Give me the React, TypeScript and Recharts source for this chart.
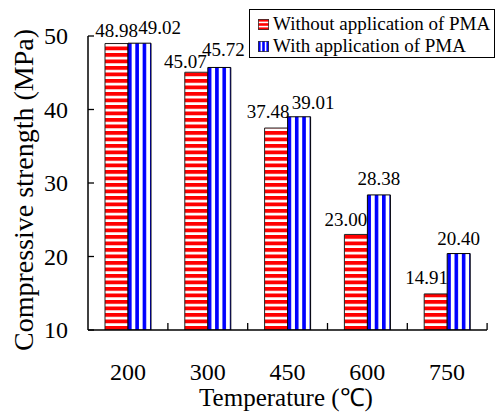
import React from 'react';
import { BarChart, Bar, XAxis, YAxis, LabelList } from 'recharts';

const categories = ['200', '300', '450', '600', '750'];
const withoutPMA = [48.98, 45.07, 37.48, 23.0, 14.91];
const withPMA = [49.02, 45.72, 39.01, 28.38, 20.4];
const yTicks = [10, 20, 30, 40, 50];
const seriesNames = ['Without application of PMA', 'With application of PMA'];

// label nudges (layout only), as placed in the original figure
const labelDxA = [0, -11, -8, -10, -9];
const labelDxB = [20, 4, 14, 0, 0];
const labelGapA = [6, 4, 10, 8, 10];
const labelGapB = [9, 11, 8, 10, 9];

const data = categories.map((c, i) => ({ cat: c, a: withoutPMA[i], b: withPMA[i] }));

const FONT = "'Liberation Serif', 'Times New Roman', serif";
const BAND = 80;

const YTick = (props: any) => {
  const { x, y, payload } = props;
  return (
    <g>
      <line x1={x + 20} x2={x + 26} y1={y} y2={y} stroke="#000" strokeWidth={1.3} />
      <text x={x} y={y} textAnchor="end" dominantBaseline="central" fontFamily={FONT} fontSize={24} fill="#000">
        {payload.value}
      </text>
    </g>
  );
};

const XTick = (props: any) => {
  const { x, y, payload } = props;
  return (
    <g>
      <line x1={x + BAND / 2} x2={x + BAND / 2} y1={y - 42} y2={y - 49} stroke="#000" strokeWidth={1.3} />
      <text x={x} y={y} textAnchor="middle" dominantBaseline="central" fontFamily={FONT} fontSize={24} fill="#000">
        {payload.value}
      </text>
    </g>
  );
};

const makeLabel = (dxs: number[], gaps: number[]) => (props: any) => {
  const { x, y, width, value, index } = props;
  return (
    <text
      x={Number(x) + Number(width) / 2 + (dxs[index] || 0)}
      y={Number(y) - (gaps[index] || 8)}
      textAnchor="middle"
      fontFamily={FONT}
      fontSize={19}
      fill="#000"
    >
      {Number(value).toFixed(2)}
    </text>
  );
};

const Swatch = ({ kind }: { kind: number }) => (
  <svg width={11} height={11} style={{ display: 'block', flex: 'none' }}>
    {kind === 0 ? (
      <g>
        <rect x={0} y={0} width={11} height={11} fill="#fff" />
        <rect x={0} y={0} width={11} height={2.6} fill="#f00" />
        <rect x={0} y={4.2} width={11} height={2.6} fill="#f00" />
        <rect x={0} y={8.4} width={11} height={2.6} fill="#f00" />
        <rect x={0.4} y={0.4} width={10.2} height={10.2} fill="none" stroke="#333" strokeWidth={0.8} />
      </g>
    ) : (
      <g>
        <rect x={0} y={0} width={11} height={11} fill="#fff" />
        <rect x={0} y={0} width={2.6} height={11} fill="#00f" />
        <rect x={4.2} y={0} width={2.6} height={11} fill="#00f" />
        <rect x={8.4} y={0} width={2.6} height={11} fill="#00f" />
        <rect x={0.4} y={0.4} width={10.2} height={10.2} fill="none" stroke="#333" strokeWidth={0.8} />
      </g>
    )}
  </svg>
);

const LegendBox = () => (
  <div
    style={{
      position: 'absolute',
      left: 249,
      top: 9,
      border: '1px solid #000',
      background: '#fff',
      width: 246,
      height: 49,
      boxSizing: 'border-box',
      padding: '3px 0 0 8px',
      fontFamily: FONT,
      fontSize: 19,
      lineHeight: '22px',
      color: '#000',
    }}
  >
    {seriesNames.map((n, i) => (
      <div key={n} style={{ display: 'flex', alignItems: 'center', height: 22, gap: 4 }}>
        <Swatch kind={i} />
        <span style={{ whiteSpace: 'nowrap' }}>{n}</span>
      </div>
    ))}
  </div>
);

export default function App() {
  return (
    <div style={{ position: 'absolute', left: 0, top: 0, width: 497, height: 412, background: '#fff' }}>
      <BarChart
        width={497}
        height={412}
        data={data}
        margin={{ top: 36, right: 10, bottom: 0, left: 0 }}
        barCategoryGap={17}
        barGap={0}
      >
        <defs>
          <pattern id="hstripe" patternUnits="userSpaceOnUse" y={1} width={6.5} height={6.5}>
            <rect x={0} y={0} width={6.5} height={6.5} fill="#fff" />
            <rect x={0} y={0} width={6.5} height={3.8} fill="#f00" />
          </pattern>
          <pattern id="vstripe" patternUnits="objectBoundingBox" x={0} y={0} width={0.318} height={1}>
            <rect x={0} y={0} width={8} height={1000} fill="#fff" />
            <rect x={0} y={0} width={3.6} height={1000} fill="#00f" />
          </pattern>
        </defs>
        <XAxis
          dataKey="cat"
          height={82}
          tickSize={0}
          tickMargin={42}
          tick={<XTick />}
          axisLine={{ stroke: '#000', strokeWidth: 1.5 }}
          tickLine={false}
        />
        <YAxis
          width={88}
          domain={[10, 50]}
          ticks={yTicks}
          allowDataOverflow
          tickSize={0}
          tickMargin={20}
          tick={<YTick />}
          axisLine={{ stroke: '#000', strokeWidth: 1.5 }}
          tickLine={false}
        />
        <Bar dataKey="a" name={seriesNames[0]} fill="url(#hstripe)" stroke="#222" strokeWidth={1} isAnimationActive={false}>
          <LabelList dataKey="a" content={makeLabel(labelDxA, labelGapA)} />
        </Bar>
        <Bar dataKey="b" name={seriesNames[1]} fill="url(#vstripe)" stroke="#000" strokeWidth={1} isAnimationActive={false}>
          <LabelList dataKey="b" content={makeLabel(labelDxB, labelGapB)} />
        </Bar>
        <text
          x={23}
          y={190}
          transform="rotate(-90 23 190)"
          textAnchor="middle"
          dominantBaseline="central"
          fontFamily={FONT}
          fontSize={28}
          fill="#000"
        >
          Compressive strength (MPa)
        </text>
        <text x={286} y={397} textAnchor="middle" dominantBaseline="central" fontFamily={FONT} fontSize={25} fill="#000">
          Temperature (℃)
        </text>
      </BarChart>
      <LegendBox />
    </div>
  );
}
